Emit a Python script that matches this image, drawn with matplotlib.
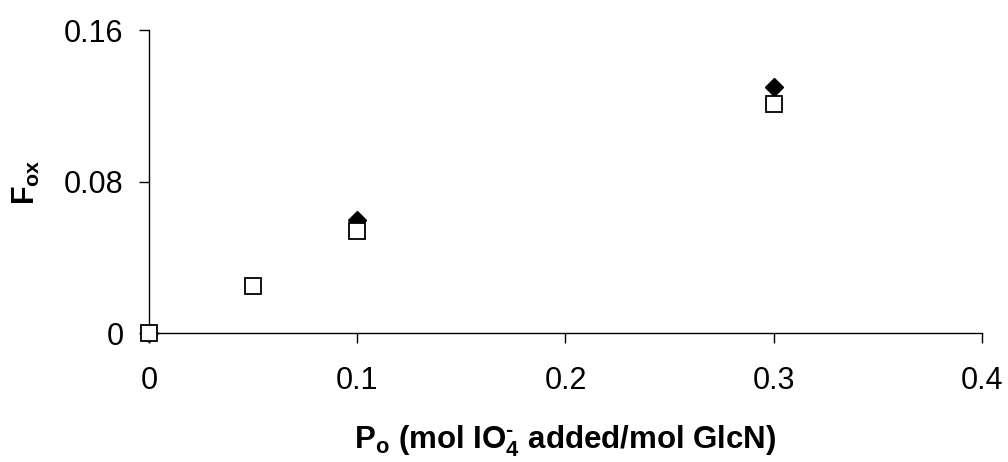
import matplotlib
matplotlib.use("Agg")
import matplotlib.pyplot as plt

plt.rcParams['font.family'] = ['Liberation Sans', 'DejaVu Sans']
plt.rcParams['mathtext.fontset'] = 'custom'
plt.rcParams['mathtext.rm'] = 'Liberation Sans:bold'
plt.rcParams['mathtext.bf'] = 'Liberation Sans:bold'
plt.rcParams['mathtext.it'] = 'Liberation Sans:bold'

# Periodate added per GlcN (P_o) vs. fraction oxidised (F_ox)
po_filled = [0.0, 0.1, 0.3]
fox_filled = [0.0, 0.060, 0.130]

po_open = [0.0, 0.05, 0.1, 0.3]
fox_open = [0.0, 0.025, 0.054, 0.121]

x_ticks = [0, 0.1, 0.2, 0.3, 0.4]
x_tick_labels = ['0', '0.1', '0.2', '0.3', '0.4']
y_ticks = [0, 0.08, 0.16]
y_tick_labels = ['0', '0.08', '0.16']

fig = plt.figure(figsize=(10.08, 4.62), dpi=100)
ax = fig.add_axes([0.148, 0.279, 0.826, 0.655])

ax.plot(po_filled, fox_filled, linestyle='none', marker='D', markersize=9.5,
        color='black', markeredgecolor='black', clip_on=False, zorder=3)
ax.plot(po_open, fox_open, linestyle='none', marker='s', markersize=12,
        markerfacecolor='white', markeredgecolor='black', markeredgewidth=1.3,
        clip_on=False, zorder=4)

ax.set_xlim(0, 0.4)
ax.set_ylim(0, 0.16)
ax.set_xticks(x_ticks)
ax.set_xticklabels(x_tick_labels)
ax.set_yticks(y_ticks)
ax.set_yticklabels(y_tick_labels)

for side in ('top', 'right'):
    ax.spines[side].set_visible(False)
for side in ('left', 'bottom'):
    ax.spines[side].set_linewidth(1.0)

ax.tick_params(axis='both', direction='out', length=7.5, width=1.0,
               labelsize=22)
ax.tick_params(axis='y', pad=11)
ax.tick_params(axis='x', pad=16)

ax.set_xlabel('P$_{\\mathrm{o}}$ (mol IO$_{\\mathrm{4}}^{\\mathrm{\u2010}}$ added/mol GlcN)',
              fontsize=22.5, fontweight='bold', labelpad=20)
ax.set_ylabel('F$_{\\mathrm{ox}}$', fontsize=22, fontweight='bold', labelpad=16)

fig.savefig('out.png', dpi=100)
